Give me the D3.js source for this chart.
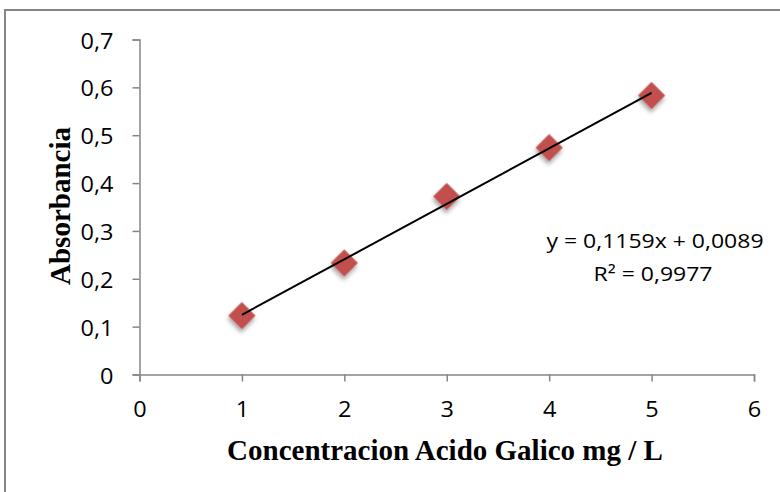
<!DOCTYPE html>
<html>
<head>
<meta charset="utf-8">
<script src="https://cdn.jsdelivr.net/npm/d3@7"></script>
<style>
  html, body { margin: 0; padding: 0; background: #fff; overflow: hidden; }
  svg { display: block; }
</style>
</head>
<body>
<svg id="chart" width="780" height="492"></svg>
<script>
// ---- data ----
const concentrations = [1, 2, 3, 4, 5];
const absorbances = [0.123, 0.233, 0.372, 0.474, 0.583];
const xTicks = [0, 1, 2, 3, 4, 5, 6];
const yTicks = [0, 0.1, 0.2, 0.3, 0.4, 0.5, 0.6, 0.7];
const trendSlope = 0.1159;
const trendIntercept = 0.0089;
const equationLines = ["y = 0,1159x + 0,0089", "R² = 0,9977"];
const xTitle = "Concentracion Acido Galico mg / L";
const yTitle = "Absorbancia";

// ---- layout ----
const svg = d3.select("#chart");
const plot = { left: 139.5, right: 754, top: 39.5, bottom: 374.5 };
const axisColor = "#868686";
const sansFont = "'Open Sans', 'Noto Sans', sans-serif";
const serifFont = "'Liberation Serif', 'Times New Roman', serif";
const sx = 1.12;

// outer border (extends past right/bottom edges)
svg.append("rect")
  .attr("x", 5).attr("y", 10)
  .attr("width", 800).attr("height", 500)
  .attr("fill", "none")
  .attr("stroke", axisColor)
  .attr("stroke-width", 2);

const x = d3.scaleLinear().domain([0, 6]).range([plot.left, plot.right]);
const y = d3.scaleLinear().domain([0, 0.7]).range([plot.bottom, plot.top]);
const fmtY = d => d === 0 ? "0" : d3.format(".1f")(d).replace(".", ",");

// y axis
const yAxis = svg.append("g")
  .attr("transform", `translate(${plot.left},0)`)
  .call(d3.axisLeft(y).tickValues(yTicks).tickSize(7).tickSizeOuter(7).tickFormat(fmtY));
// x axis
const xAxis = svg.append("g")
  .attr("transform", `translate(0,${plot.bottom})`)
  .call(d3.axisBottom(x).tickValues(xTicks).tickSize(7).tickSizeOuter(7).tickFormat(d3.format("d")));

[yAxis, xAxis].forEach(g => {
  g.select(".domain").attr("stroke", axisColor).attr("stroke-width", 1.5);
  g.selectAll(".tick line").attr("stroke", axisColor).attr("stroke-width", 1.5);
  g.selectAll(".tick text")
    .attr("font-family", sansFont)
    .attr("font-size", 21)
    .attr("fill", "#000");
});
yAxis.selectAll(".tick text")
  .attr("x", 0).attr("dy", "0.36em")
  .attr("text-anchor", "end")
  .attr("transform", `translate(-26,1) scale(${sx},1)`);
xAxis.selectAll(".tick text")
  .attr("y", 0).attr("dy", "0.36em")
  .attr("transform", `translate(0,35) scale(${sx},1)`);

// drop shadow
const defs = svg.append("defs");
const f = defs.append("filter").attr("id", "shadow")
  .attr("x", "-50%").attr("y", "-50%").attr("width", "200%").attr("height", "200%");
f.append("feDropShadow")
  .attr("dx", 2).attr("dy", 3).attr("stdDeviation", 2)
  .attr("flood-color", "#000").attr("flood-opacity", 0.35);

// markers
const pts = concentrations.map((c, i) => ({ c, a: absorbances[i] }));
const diamond = d3.symbol().type(d3.symbolSquare).size(370);
svg.append("g").selectAll("path")
  .data(pts)
  .join("path")
  .attr("d", diamond)
  .attr("transform", d => `translate(${x(d.c)},${y(d.a)}) rotate(45)`)
  .attr("fill", "#C0504D")
  .attr("filter", "url(#shadow)");

// trendline
const xMin = d3.min(concentrations), xMax = d3.max(concentrations);
svg.append("line")
  .attr("x1", x(xMin)).attr("y1", y(trendSlope * xMin + trendIntercept))
  .attr("x2", x(xMax)).attr("y2", y(trendSlope * xMax + trendIntercept))
  .attr("stroke", "#000").attr("stroke-width", 2);

// equation
const eq = svg.append("g").attr("font-family", sansFont).attr("font-size", 20).attr("fill", "#000");
eq.selectAll("text").data(equationLines).join("text")
  .attr("text-anchor", "middle")
  .attr("transform", (d, i) => `translate(${i === 0 ? 655 : 653},${248 + i * 33}) scale(1.15,1)`)
  .text(d => d);

// axis titles
svg.append("text")
  .attr("x", 445)
  .attr("y", 460)
  .attr("text-anchor", "middle")
  .attr("font-family", serifFont)
  .attr("font-weight", "bold")
  .attr("font-size", 29)
  .attr("fill", "#000")
  .text(xTitle);

svg.append("text")
  .attr("transform", `translate(70,206) rotate(-90)`)
  .attr("text-anchor", "middle")
  .attr("font-family", serifFont)
  .attr("font-weight", "bold")
  .attr("font-size", 29)
  .attr("fill", "#000")
  .text(yTitle);
</script>
</body>
</html>
